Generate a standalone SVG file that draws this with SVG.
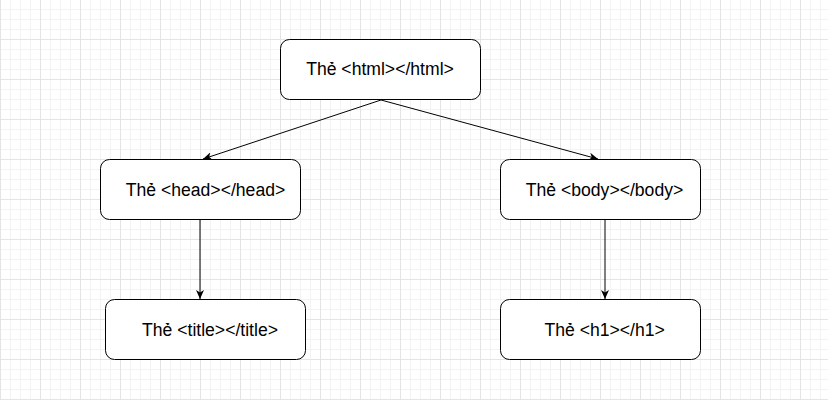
<svg xmlns="http://www.w3.org/2000/svg" width="828" height="400" viewBox="0 0 828 400">
<defs>
<pattern id="grid" patternUnits="userSpaceOnUse" x="0" y="-1" width="40" height="40">
<path d="M10.5 0V40M20.5 0V40M30.5 0V40M0 10.5H40M0 20.5H40M0 30.5H40" stroke="#f3f3f3" stroke-width="1" fill="none"/>
<path d="M0.5 0V40M0 0.5H40" stroke="#e4e4e4" stroke-width="1" fill="none"/>
</pattern>
<marker id="arr" markerUnits="userSpaceOnUse" viewBox="0 0 9 8" refX="9" refY="4" markerWidth="9" markerHeight="8" orient="auto">
<path d="M0 0L9 4L0 8L2.5 4Z" fill="#000"/>
</marker>
<style>
.node rect{fill:#fff;stroke:#000;stroke-width:1}
.node text{font-family:"Liberation Sans",Arial,sans-serif;font-size:17.6px;fill:#000;text-anchor:middle}
.edges line{stroke:#000;stroke-width:1;marker-end:url(#arr)}
</style>
</defs>
<rect x="0" y="0" width="828" height="400" fill="#fff"/>
<rect x="0" y="0" width="828" height="400" fill="url(#grid)"/>
<g class="edges" id="edges">
<line x1="381" y1="100" x2="203" y2="159"/>
<line x1="381" y1="100" x2="598" y2="159"/>
<line x1="200" y1="219.5" x2="200" y2="299"/>
<line x1="605" y1="219.5" x2="605" y2="299"/>
</g>
<g class="node" id="node-html">
<rect x="280.5" y="39.5" width="200" height="60" rx="9"/>
<text x="380" y="75">Thẻ &lt;html&gt;&lt;/html&gt;</text>
</g>
<g class="node" id="node-head">
<rect x="100.5" y="159.5" width="200" height="60" rx="9"/>
<text x="205.5" y="196">Thẻ &lt;head&gt;&lt;/head&gt;</text>
</g>
<g class="node" id="node-body">
<rect x="500.5" y="159.5" width="200" height="60" rx="9"/>
<text x="604.5" y="196">Thẻ &lt;body&gt;&lt;/body&gt;</text>
</g>
<g class="node" id="node-title">
<rect x="105.5" y="299.5" width="200" height="60" rx="9"/>
<text x="210" y="336">Thẻ &lt;title&gt;&lt;/title&gt;</text>
</g>
<g class="node" id="node-h1">
<rect x="500.5" y="299.5" width="200" height="60" rx="9"/>
<text x="604.7" y="336">Thẻ &lt;h1&gt;&lt;/h1&gt;</text>
</g>
</svg>
